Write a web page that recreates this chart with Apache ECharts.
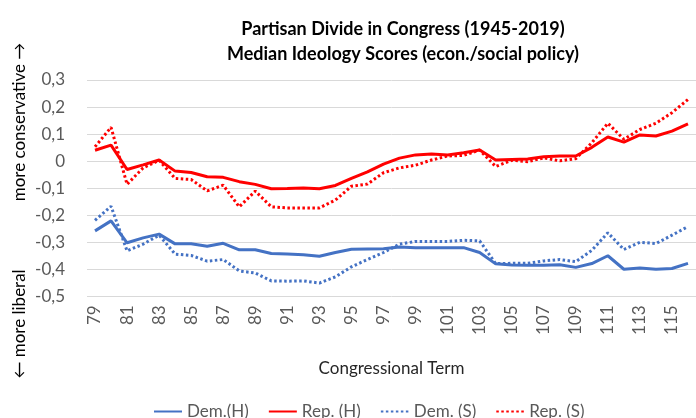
<!DOCTYPE html>
<html><head><meta charset="utf-8">
<script src="https://cdn.jsdelivr.net/npm/echarts@6/dist/echarts.min.js"></script>
<style>html,body{margin:0;padding:0;background:#fff}#c{width:696px;height:418px}</style>
</head><body><div id="c"></div>
<script>
const terms = ['79','80','81','82','83','84','85','86','87','88','89','90','91','92','93','94','95','96','97','98','99','100','101','102','103','104','105','106','107','108','109','110','111','112','113','114','115','116'];
const demH = [-0.258,-0.221,-0.302,-0.284,-0.270,-0.306,-0.306,-0.315,-0.304,-0.328,-0.328,-0.342,-0.344,-0.346,-0.352,-0.338,-0.326,-0.325,-0.324,-0.318,-0.320,-0.320,-0.320,-0.320,-0.338,-0.380,-0.384,-0.385,-0.385,-0.383,-0.393,-0.379,-0.350,-0.400,-0.395,-0.400,-0.397,-0.378];
const repH = [0.040,0.059,-0.031,-0.014,0.004,-0.037,-0.042,-0.058,-0.060,-0.076,-0.086,-0.102,-0.101,-0.099,-0.102,-0.090,-0.064,-0.040,-0.011,0.011,0.023,0.026,0.023,0.031,0.041,0.004,0.006,0.008,0.016,0.019,0.019,0.051,0.089,0.070,0.097,0.093,0.111,0.138];
const demS = [-0.219,-0.167,-0.332,-0.307,-0.274,-0.344,-0.349,-0.370,-0.364,-0.406,-0.414,-0.443,-0.444,-0.443,-0.451,-0.428,-0.391,-0.364,-0.338,-0.307,-0.297,-0.297,-0.297,-0.293,-0.295,-0.379,-0.378,-0.378,-0.369,-0.364,-0.372,-0.330,-0.265,-0.327,-0.300,-0.305,-0.274,-0.242];
const repS = [0.053,0.125,-0.086,-0.025,0.003,-0.064,-0.068,-0.110,-0.089,-0.169,-0.111,-0.169,-0.173,-0.173,-0.173,-0.144,-0.093,-0.085,-0.043,-0.025,-0.015,0.004,0.019,0.021,0.041,-0.020,0.003,-0.002,0.012,0.001,0.009,0.068,0.140,0.081,0.117,0.140,0.179,0.228];
const seriesNames = ['Dem.(H)','Rep. (H)','Dem. (S)','Rep. (S)'];
const titleText = 'Partisan Divide in Congress (1945-2019)\nMedian Ideology Scores (econ./social policy)';
const xName = 'Congressional Term';
const yNameUp = 'more conservative \u2192';
const yNameDown = '\u2190 more liberal';

const FONT = 'Lato';
const BLUE = '#4472C4', RED = '#FF0000';
const chart = echarts.init(document.getElementById('c'));
function mk(name, data, color, dotted){
  return {name, type:'line', data, symbol:'none', showSymbol:false, smooth:false,
    lineStyle:{color, width:3, type: dotted ? [2.5,2.5] : 'solid', cap:'butt'},
    itemStyle:{color}, emphasis:{disabled:true}, animation:false};
}
chart.setOption({
  animation:false,
  title:{text:titleText, left:398, top:12, textAlign:'center',
    textStyle:{fontFamily:FONT, fontWeight:'bold', fontSize:18, color:'#000', lineHeight:25}},
  grid:{left:87, top:80, width:619, height:216.3, containLabel:false},
  legend:{data:seriesNames, left:148, top:398, itemWidth:28, itemHeight:14, itemGap:19,
    itemStyle:{opacity:0},
    textStyle:{fontFamily:FONT, fontSize:17, color:'#595959'}},
  xAxis:{type:'category', data:terms, boundaryGap:true,
    name:xName, nameLocation:'middle', nameGap:64,
    nameTextStyle:{fontFamily:FONT, fontSize:17, color:'#262626'},
    axisLine:{show:false, onZero:false}, axisTick:{show:false},
    axisLabel:{interval:1, rotate:90, margin:9, fontFamily:FONT, fontSize:17, color:'#595959'},
    splitLine:{show:false}},
  yAxis:{type:'value', min:-0.5, max:0.3, interval:0.1,
    axisLine:{show:false}, axisTick:{show:false},
    axisLabel:{margin:22, fontFamily:FONT, fontSize:17, color:'#595959',
      formatter:v=>{const r=Math.round(v*10)/10; return r===0?'0':r.toFixed(1).replace('.',',');}},
    splitLine:{lineStyle:{color:'#D9D9D9', width:1}}},
  graphic:[
    {type:'text', rotation:Math.PI/2, x:20, y:122,
      style:{text:yNameUp, font:'17px '+FONT, fill:'#000', align:'center', verticalAlign:'middle'}},
    {type:'text', rotation:Math.PI/2, x:20, y:324,
      style:{text:yNameDown, font:'17px '+FONT, fill:'#000', align:'center', verticalAlign:'middle'}}
  ],
  series:[mk(seriesNames[0],demH,BLUE,false), mk(seriesNames[1],repH,RED,false),
          mk(seriesNames[2],demS,BLUE,true), mk(seriesNames[3],repS,RED,true)]
});
</script></body></html>
